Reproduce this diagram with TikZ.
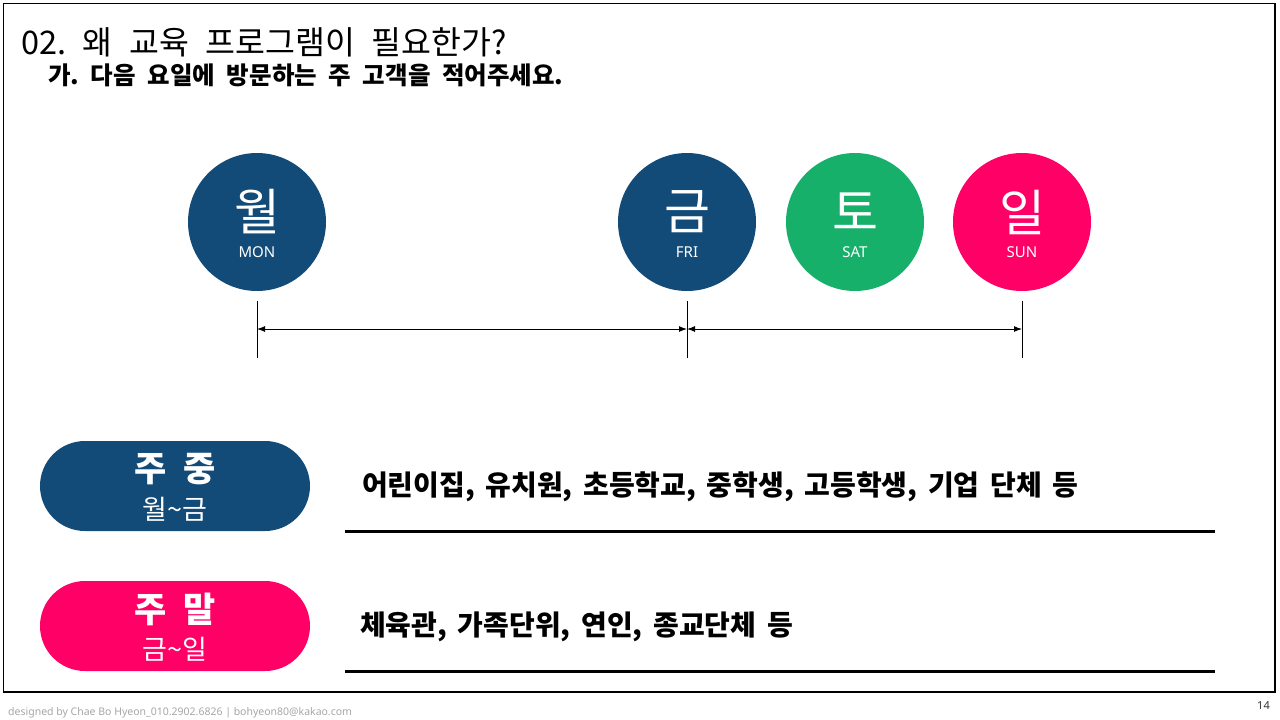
\documentclass[tikz,border=0pt]{standalone}
\usepackage{fontspec}
\setmainfont{Noto Sans CJK KR}
\newfontfamily\latinfont{Noto Sans}
\usetikzlibrary{arrows.meta,shapes.misc}
\definecolor{navy}{HTML}{134B78}
\definecolor{grn}{HTML}{17B06B}
\definecolor{pink}{HTML}{FF0066}
\definecolor{foot}{HTML}{A6A6A6}
\frenchspacing
\newcommand\mygap[1]{\spaceskip=#1em\relax}
\newcommand\titlefnt{\fontsize{32.5}{32.5}\selectfont\mygap{0.51}}
\newcommand\subfnt{\bfseries\fontsize{24.5}{24.5}\selectfont\mygap{0.475}}
\newcommand\bodyfnt{\bfseries\fontsize{28}{28}\selectfont\mygap{0.38}}
\newcommand\pillfnt{\bfseries\fontsize{35}{35}\selectfont\mygap{0.5}}
\tikzset{
  daycirc/.style={circle,minimum size=138pt,inner sep=0pt,draw=none},
  dayko/.style={text=white,font=\fontsize{50}{50}\selectfont,inner sep=0pt},
  dayen/.style={text=white,font=\latinfont\fontsize{15}{15}\selectfont,inner sep=0pt},
  pillbox/.style={rounded rectangle,minimum width=270pt,minimum height=90pt,inner sep=0pt,draw=none},
  pillhead/.style={text=white,font=\pillfnt,inner sep=0pt},
  pillsub/.style={text=white,font=\fontsize{27}{27}\selectfont,inner sep=0pt},
  bodytext/.style={anchor=west,font=\bodyfnt,inner sep=0pt},
  titletext/.style={anchor=west,inner sep=0pt,font=\titlefnt},
  subtext/.style={anchor=west,inner sep=0pt,font=\subfnt},
  tick/.style={line width=1pt},
  span/.style={line width=1pt,{Latex[length=8pt,width=6pt]}-{Latex[length=8pt,width=6pt]}},
  rule/.style={line width=3pt},
}
\begin{document}
\begin{tikzpicture}[x=1pt,y=-1pt]
\useasboundingbox (0,0) rectangle (1280,720);
\draw[line width=1.3pt] (3.5,3.5) rectangle (1275,692);
% titles
\node[titletext] (title) at (21,42) {02. 왜 교육 프로그램이 필요한가?};
\node[subtext] (sub) at (48,75) {가. 다음 요일에 방문하는 주 고객을 적어주세요.};
% circles
\node[daycirc,fill=navy] (mon) at (257,222) {};
\node[daycirc,fill=navy] (fri) at (687,222) {};
\node[daycirc,fill=grn] (sat) at (855,222) {};
\node[daycirc,fill=pink] (sun) at (1022,222) {};
\node[dayko] (monk) at (257,212) {월};
\node[dayen] (mone) at (257,252) {MON};
\node[dayko] (frik) at (687,212) {금};
\node[dayen] (frie) at (687,252) {FRI};
\node[dayko] (satk) at (855,212) {토};
\node[dayen] (sate) at (855,252) {SAT};
\node[dayko] (sunk) at (1022,212) {일};
\node[dayen] (sune) at (1022,252) {SUN};
% ticks and spans
\coordinate (t1a) at (257,301); \coordinate (t1b) at (257,358);
\coordinate (t2a) at (687,301); \coordinate (t2b) at (687,358);
\coordinate (t3a) at (1022,301); \coordinate (t3b) at (1022,358);
\coordinate (a1) at (257,329); \coordinate (a2) at (687,329); \coordinate (a3) at (1022,329);
\draw[tick] (t1a) -- (t1b);
\draw[tick] (t2a) -- (t2b);
\draw[tick] (t3a) -- (t3b);
\draw[span] (a1) -- (a2);
\draw[span] (a2) -- (a3);
% pills
\node[pillbox,fill=navy] (wk) at (175,486) {};
\node[pillhead] (wkh) at (175,469) {주 중};
\node[pillsub] (wks) at (175,509) {월\textasciitilde 금};
\node[pillbox,fill=pink] (we) at (175,626) {};
\node[pillhead] (weh) at (175,609) {주 말};
\node[pillsub] (wes) at (175,649) {금\textasciitilde 일};
% body
\node[bodytext] (wkt) at (362,487) {어린이집, 유치원, 초등학교, 중학생, 고등학생, 기업 단체 등};
\node[bodytext] (wet) at (360,627) {체육관, 가족단위, 연인, 종교단체 등};
\coordinate (r1a) at (345,531); \coordinate (r1b) at (1215,531);
\coordinate (r2a) at (345,671); \coordinate (r2b) at (1215,671);
\draw[rule] (r1a) -- (r1b);
\draw[rule] (r2a) -- (r2b);
% footer
\node[anchor=west,inner sep=0pt,text=foot,font=\latinfont\fontsize{10.5}{10.5}\selectfont] (foot) at (8,713) {designed by Chae Bo Hyeon\_010.2902.6826 | bohyeon80@kakao.com};
\node[anchor=east,inner sep=0pt,text=black!80,font=\latinfont\fontsize{11}{11}\selectfont] (pg) at (1270,706) {14};
\end{tikzpicture}
\end{document}
